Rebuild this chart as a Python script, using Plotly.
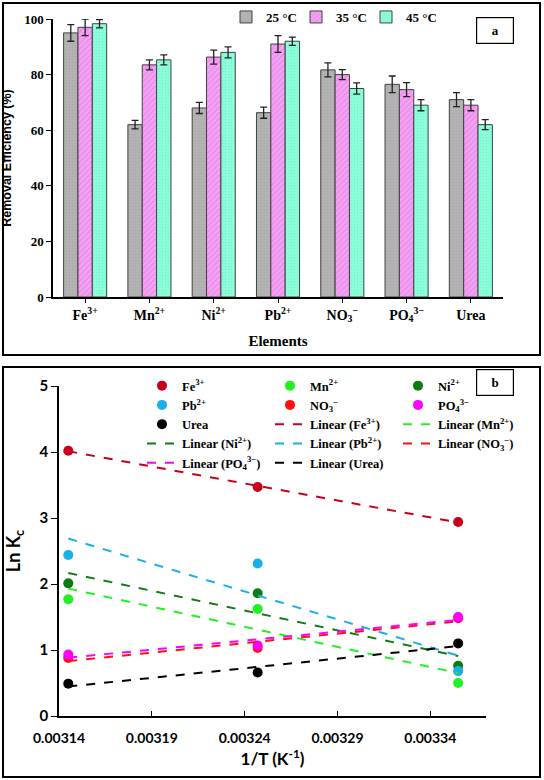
import numpy as np
import plotly.graph_objects as go

# ---------------- Panel a data ----------------
elements = ["Fe<sup>3+</sup>", "Mn<sup>2+</sup>", "Ni<sup>2+</sup>", "Pb<sup>2+</sup>",
            "NO<sub>3</sub><sup>−</sup>", "PO<sub>4</sub><sup>3−</sup>", "Urea"]
temps = ["25 °C", "35 °C", "45 °C"]
eff_25 = [95.0, 62.0, 68.0, 66.3, 81.7, 76.5, 71.0]
eff_35 = [97.0, 83.5, 86.3, 91.0, 80.0, 74.6, 69.0]
eff_45 = [98.3, 85.3, 88.0, 92.0, 75.0, 69.0, 62.0]
err_25 = [3.0, 1.5, 2.0, 2.0, 2.5, 3.0, 2.5]
err_35 = [3.0, 1.8, 2.5, 3.0, 1.8, 2.5, 2.0]
err_45 = [1.5, 1.8, 2.0, 1.5, 2.0, 2.0, 1.8]

# ---------------- Panel b data ----------------
inv_T = [0.0031450, 0.0032470, 0.0033550]
ions = ["Fe<sup>3+</sup>", "Mn<sup>2+</sup>", "Ni<sup>2+</sup>", "Pb<sup>2+</sup>",
        "NO<sub>3</sub><sup>−</sup>", "PO<sub>4</sub><sup>3−</sup>", "Urea"]
lnkc_fe = [4.02, 3.47, 2.94]
lnkc_mn = [1.77, 1.62, 0.50]
lnkc_ni = [2.01, 1.86, 0.76]
lnkc_pb = [2.44, 2.31, 0.68]
lnkc_no3 = [0.88, 1.03, 1.48]
lnkc_po4 = [0.93, 1.07, 1.50]
lnkc_urea = [0.49, 0.66, 1.10]
ion_colors = ["#c8001e", "#22f022", "#0e7a12", "#1ab0e6", "#ff1010", "#ff00ff", "#000000"]

# ---------------- layout helpers ----------------
W, H = 544, 780
ML, MR = 50, 10
GW = W - ML - MR


def px(x):
    return (x - ML) / GW


def py(y):
    return 1 - y / H


fig = go.Figure()

serif = "Liberation Serif"
sans_a = "Liberation Sans"
sans_b = "Lato"

bar_styles = [
    dict(color="#b3b3b3", pattern=dict(shape=".", bgcolor="#b3b3b3", fgcolor="#a0a0a0", size=3, solidity=0.2)),
    dict(color="#f095f0", pattern=dict(shape="/", bgcolor="#f3a3f3", fgcolor="#dc6edc", size=4, solidity=0.3)),
    dict(color="#8affd9", pattern=dict(shape=".", bgcolor="#8cffdb", fgcolor="#62e6be", size=3, solidity=0.25)),
]
for name, vals, errs, st in zip(temps, [eff_25, eff_35, eff_45], [err_25, err_35, err_45], bar_styles):
    fig.add_trace(go.Bar(
        x=elements, y=vals, name=name,
        marker=dict(color=st["color"], pattern=st["pattern"], line=dict(color="#404040", width=1)),
        error_y=dict(type="data", array=errs, color="#222222", thickness=1.3, width=3.5),
        xaxis="x", yaxis="y", legend="legend",
    ))

series_b = [lnkc_fe, lnkc_mn, lnkc_ni, lnkc_pb, lnkc_no3, lnkc_po4, lnkc_urea]
for name, vals, col in zip(ions, series_b, ion_colors):
    fig.add_trace(go.Scatter(
        x=inv_T, y=vals, mode="markers", name=name,
        marker=dict(color=col, size=10),
        xaxis="x2", yaxis="y2", legend="legend2",
    ))
for name, vals, col in zip(ions, series_b, ion_colors):
    slope, icpt = np.polyfit(inv_T, vals, 1)
    xs = np.array([inv_T[0], inv_T[-1]])
    fig.add_trace(go.Scatter(
        x=xs, y=slope * xs + icpt, mode="lines", name="Linear (" + name + ")",
        line=dict(color=col, width=2, dash="dash"),
        xaxis="x2", yaxis="y2", legend="legend2",
    ))

fig.update_layout(
    width=W, height=H,
    margin=dict(l=ML, r=MR, t=0, b=0, autoexpand=False),
    paper_bgcolor="white", plot_bgcolor="white",
    barmode="group", bargap=0.33, bargroupgap=0,
    showlegend=True,
    xaxis=dict(domain=[px(53), px(503)], anchor="y", showline=True, linecolor="black", linewidth=1.5,
               ticks="outside", ticklen=4, tickcolor="black", showgrid=False,
               tickfont=dict(family=serif, size=14, color="black", weight="bold"),
               title=dict(text="<b>Elements</b>", font=dict(family=serif, size=15, color="black"), standoff=12)),
    yaxis=dict(domain=[py(297), py(19)], anchor="x", range=[0, 100], dtick=20, showline=True,
               linecolor="black", linewidth=1.5, ticks="outside", ticklen=5, tickcolor="black",
               showgrid=False, zeroline=False,
               tickfont=dict(family=serif, size=13, color="black", weight="bold"),
               title=dict(text="<b>Removal Efficiency (%)</b>", font=dict(family=sans_a, size=12.5, color="black"),
                          standoff=12)),
    xaxis2=dict(domain=[px(59), px(486)], anchor="y2", range=[0.00314, 0.00337], dtick=0.00005,
                tick0=0.00314, tickformat=".5f", showline=True, linecolor="black", linewidth=1.5,
                ticks="inside", ticklen=5, tickcolor="black", showgrid=False, zeroline=False,
                ticklabelstandoff=8,
                tickfont=dict(family=sans_b, size=14, color="black", weight="bold"),
                title=dict(text="<b>1/T (K<sup>-1</sup>)</b>", font=dict(family=sans_b, size=17, color="black"),
                           standoff=9)),
    yaxis2=dict(domain=[py(716), py(386)], anchor="x2", range=[0, 5], dtick=1, showline=True,
                linecolor="black", linewidth=1.5, ticks="outside", ticklen=6, tickcolor="black",
                showgrid=False, zeroline=False,
                tickfont=dict(family=sans_b, size=15, color="black", weight="bold"),
                title=dict(text="<b>Ln K<sub>c</sub></b>", font=dict(family=sans_b, size=18, color="black"),
                           standoff=14)),
    legend=dict(orientation="h", x=px(226), y=py(2), xanchor="left", yanchor="top",
                bgcolor="rgba(0,0,0,0)", entrywidth=25, itemwidth=30,
                font=dict(family=serif, size=13, color="black", weight="bold")),
    legend2=dict(orientation="h", x=px(142), y=py(371), xanchor="left", yanchor="top",
                 bgcolor="rgba(0,0,0,0)", entrywidth=83, itemwidth=30, tracegroupgap=0,
                 font=dict(family=serif, size=12.5, color="black", weight="bold")),
    shapes=[
        dict(type="rect", xref="paper", yref="paper", x0=px(3), x1=px(540), y0=py(355), y1=py(3),
             line=dict(color="black", width=2), layer="below"),
        dict(type="rect", xref="paper", yref="paper", x0=px(3), x1=px(540), y0=py(777), y1=py(367),
             line=dict(color="black", width=2), layer="below"),
    ],
    annotations=[
        dict(text="<b>a</b>", xref="paper", yref="paper", x=px(514), y=py(17), showarrow=False,
             font=dict(family=serif, size=13, color="black"), bordercolor="black", borderwidth=1.2,
             borderpad=5, bgcolor="white", width=26),
        dict(text="<b>b</b>", xref="paper", yref="paper", x=px(514), y=py(382), showarrow=False,
             font=dict(family=serif, size=13, color="black"), bordercolor="black", borderwidth=1.2,
             borderpad=5, bgcolor="white", width=26),
    ],
)

fig.write_html("out.html", config={"displayModeBar": False},
               post_script="document.body.style.margin='0';")
